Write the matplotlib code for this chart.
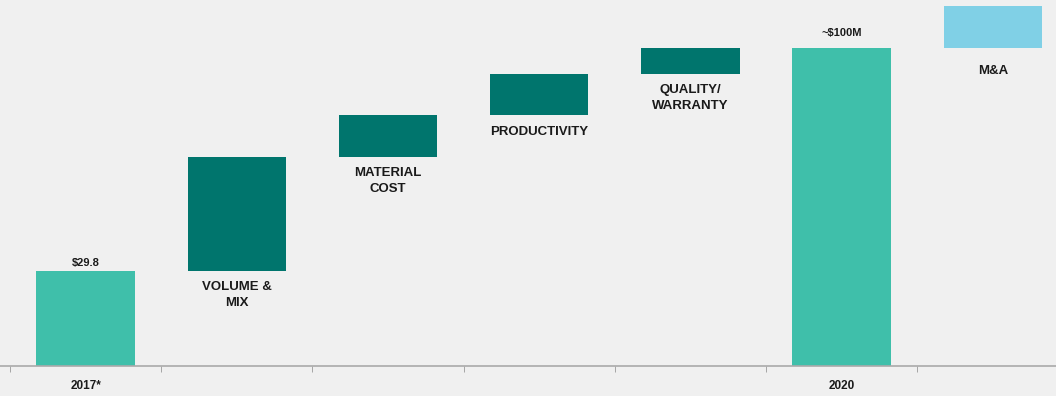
import numpy as np
import matplotlib
matplotlib.use("Agg")
import matplotlib.pyplot as plt

categories = ["2017*", "VOLUME &\nMIX", "MATERIAL\nCOST", "PRODUCTIVITY", "QUALITY/\nWARRANTY", "2020", "M&A"]
values = [29.8, 36.0, 13.0, 13.0, 8.2, 100.0, 13.3]
kinds = ["total", "step", "step", "step", "step", "total", "extra"]
top_labels = {0: "$29.8", 5: "~$100M"}
tick_labels = {0: "2017*", 5: "2020"}

LIGHT = "#3fbfaa"
DARK = "#00756d"
BLUE = "#80d0e6"
BG = "#f0f0f0"
TXT = "#1a1a1a"

plt.rcParams["font.family"] = ["Liberation Sans", "DejaVu Sans"]

fig = plt.figure(figsize=(10.56, 3.96), dpi=100, facecolor=BG)
ax = fig.add_axes([0, 30 / 396, 1, 366 / 396])
ax.set_facecolor(BG)

x = np.arange(len(categories))
bottoms, heights, colors = [], [], []
run = 0.0
for v, k in zip(values, kinds):
    if k == "total":
        bottoms.append(0.0); heights.append(v); colors.append(LIGHT); run = v
    elif k == "step":
        bottoms.append(run); heights.append(v); colors.append(DARK); run += v
    else:
        bottoms.append(run); heights.append(v); colors.append(BLUE); run += v

ax.bar(x, heights, bottom=bottoms, width=0.65, color=colors, zorder=2)

for i, (b, h, k) in enumerate(zip(bottoms, heights, kinds)):
    if i in top_labels:
        off = 0.9 if h < 50 else 3.0
        ax.text(i, b + h + off, top_labels[i], ha="center", va="bottom",
                fontsize=8, fontweight="bold", color=TXT)
    if k != "total":
        off = 5.5 if k == "extra" else 3.2
        ax.text(i, b - off, categories[i], ha="center", va="top",
                fontsize=9.5, fontweight="bold", color=TXT, linespacing=1.4)

px_per_cat = 151.2
left = -0.5 - 10 / px_per_cat
right = left + 1056 / px_per_cat

ax.set_xticks(x)
ax.set_xticklabels([tick_labels.get(i, "") for i in x], fontsize=8.5, fontweight="bold", color=TXT)
ax.tick_params(axis="x", which="major", length=0, pad=10)
ax.set_xticks(np.arange(-0.5, right, 1.0), minor=True)
ax.tick_params(axis="x", which="minor", length=4, color="#999999")
ax.set_yticks([])
ax.set_xlim(left, right)
ax.set_ylim(0, 366 / 3.18)
for s in ["top", "right", "left"]:
    ax.spines[s].set_visible(False)
ax.spines["bottom"].set_color("#aaaaaa")
ax.spines["bottom"].set_linewidth(1.2)

fig.savefig("out.png", dpi=100, facecolor=BG)
